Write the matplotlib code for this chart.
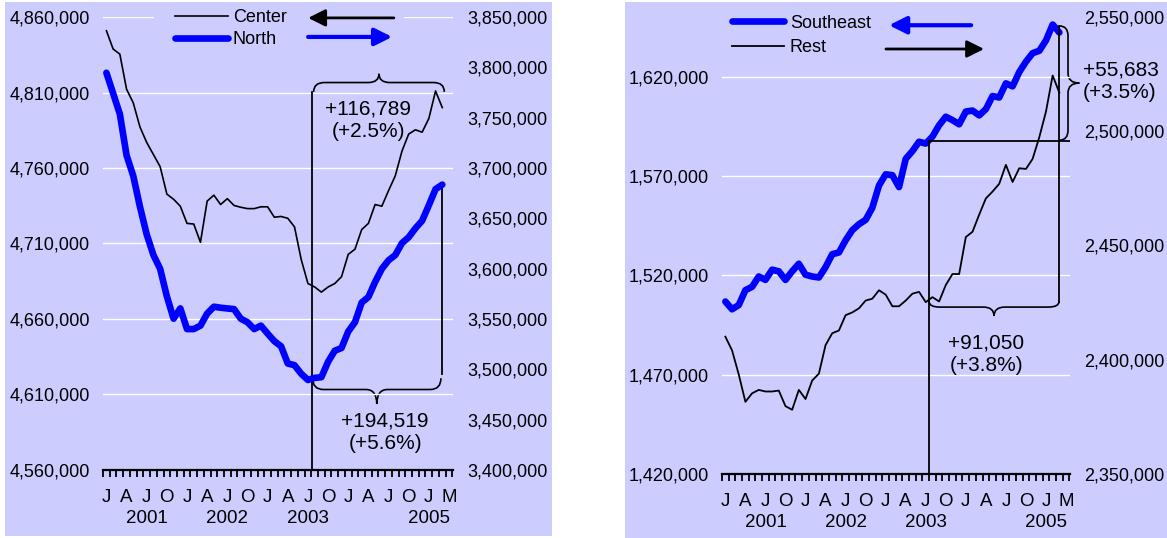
import numpy as np
import matplotlib.pyplot as plt
from matplotlib.patches import Rectangle, PathPatch
from matplotlib.path import Path
from matplotlib.ticker import FuncFormatter
from matplotlib.transforms import offset_copy

plt.rcParams['font.family'] = ['Liberation Sans', 'DejaVu Sans']

# monthly series, Jan 2001 .. Mar 2005
center = [4850900, 4838800, 4835400, 4812200, 4803100, 4787100, 4776900, 4768900,
          4760900, 4742700, 4739300, 4734700, 4723300, 4722900, 4710800, 4738100,
          4742000, 4735800, 4739700, 4735200, 4734000, 4733100, 4733100, 4734300,
          4734300, 4727400, 4727900, 4726700, 4721000, 4699400, 4683500, 4681200,
          4677800, 4681200, 4683500, 4688000, 4702800, 4706200, 4719200, 4723300,
          4735800, 4734700, 4745000, 4754800, 4771200, 4782500, 4785300, 4783700,
          4792800, 4811000, 4800000]
north = [3794600, 3774100, 3753600, 3712600, 3692100, 3661300, 3634000, 3613500,
         3599800, 3572500, 3550300, 3560500, 3540000, 3540000, 3543400, 3555400,
         3562200, 3561200, 3560500, 3559800, 3550300, 3546800, 3540000, 3543400,
         3535500, 3528000, 3522900, 3505800, 3504100, 3495600, 3489400, 3491500,
         3492200, 3507500, 3518500, 3521200, 3537600, 3546800, 3566300, 3571800,
         3586800, 3599800, 3608300, 3613500, 3625400, 3631200, 3640100, 3647600,
         3663000, 3679000, 3683500]
southeast = [1506800, 1502900, 1505000, 1512500, 1514200, 1519400, 1517700, 1522800,
             1522000, 1517700, 1522000, 1525800, 1520300, 1519400, 1518900, 1524100,
             1530600, 1531500, 1537600, 1542700, 1545700, 1547900, 1554000, 1565200,
             1570800, 1570400, 1564400, 1578600, 1582500, 1587200, 1586300, 1589800,
             1595500, 1599800, 1598100, 1596000, 1602400, 1602900, 1600500, 1603600,
             1610200, 1609500, 1616600, 1615100, 1622300, 1627500, 1631800, 1633000,
             1638200, 1646200, 1642200]
rest = [2410100, 2404100, 2393600, 2381600, 2385300, 2386800, 2386100, 2386100,
        2386500, 2379700, 2378100, 2386800, 2382800, 2390900, 2393900, 2406400,
        2411600, 2412800, 2419500, 2420700, 2422500, 2425900, 2426700, 2430400,
        2428500, 2423400, 2423400, 2425900, 2428900, 2429700, 2425200, 2427400,
        2425500, 2432700, 2437500, 2437500, 2453700, 2456000, 2463500, 2470600,
        2473600, 2477000, 2485300, 2477800, 2483800, 2483500, 2487900, 2497400,
        2508600, 2524400, 2516900]

tick_pos = list(range(0, 49, 3)) + [51]
tick_letters = ['J', 'A', 'J', 'O'] * 4 + ['J', 'M']
year_pos = [6, 18, 30, 48]
year_labels = ['2001', '2002', '2003', '2005']

lav = '#CCCCFF'
blue = '#0000FF'
fs = 13

x = np.arange(len(center))

fig = plt.figure(figsize=(11.67, 5.38), dpi=100)
fig.add_artist(Rectangle((0.0043, 0.0037), 0.4687, 0.9926, transform=fig.transFigure,
                         facecolor=lav, edgecolor='none', zorder=-5))
fig.add_artist(Rectangle((0.5356, 0.0), 0.4644, 0.9963, transform=fig.transFigure,
                         facecolor=lav, edgecolor='none', zorder=-5))

fmt = FuncFormatter(lambda v, p: f'{v:,.0f}')


def make_panel(rect, lim1, yt1, lim2, yt2):
    ax = fig.add_axes(rect)
    ax.set_facecolor('none')
    ax2 = ax.twinx()
    ax2.set_facecolor('none')
    for a in (ax, ax2):
        for s in a.spines.values():
            s.set_visible(False)
    ax.spines['bottom'].set_visible(True)
    ax.spines['bottom'].set_linewidth(1.6)
    ax.set_xlim(-0.5, 51.6)
    ax.set_ylim(*lim1)
    ax.set_yticks(yt1)
    ax2.set_ylim(*lim2)
    ax2.set_yticks(yt2)
    ax.yaxis.set_major_formatter(fmt)
    ax2.yaxis.set_major_formatter(fmt)
    ax.tick_params(axis='y', length=0, pad=9.5, labelsize=fs)
    ax2.tick_params(axis='y', length=0, pad=10, labelsize=fs)
    ax.set_xticks(tick_pos, tick_letters)
    ax.set_xticks(np.arange(-0.5, 52, 1), minor=True)
    ax.tick_params(axis='x', which='major', length=0, pad=13.5, labelsize=13.5)
    ax.tick_params(axis='x', which='minor', length=5, width=1.3, direction='out')
    ax.grid(axis='y', color='white', lw=1)
    ytr = offset_copy(ax.get_xaxis_transform(), fig=fig, y=-49, units='dots')
    for p, t in zip(year_pos, year_labels):
        ax.text(p, 0, t, transform=ytr, ha='center', va='center', fontsize=13.5)
    return ax, ax2


def brace(ax, a, b, base, mid, tip, r, vertical=False, lw=1.2):
    m = (a + b) / 2
    pts = [(a, base), (a, mid), (a + r, mid), (m - r, mid), (m, mid), (m, tip),
           (m, mid), (m + r, mid), (b - r, mid), (b, mid), (b, base)]
    if vertical:
        pts = [(q, p) for p, q in pts]
    codes = [Path.MOVETO, Path.CURVE3, Path.CURVE3, Path.LINETO, Path.CURVE3, Path.CURVE3,
             Path.CURVE3, Path.CURVE3, Path.LINETO, Path.CURVE3, Path.CURVE3]
    ax.add_patch(PathPatch(Path(pts, codes), fill=False, lw=lw, color='black', clip_on=False))


def arrow(ax, tail, head, color, lw):
    ax.annotate('', xy=head, xytext=tail, xycoords='axes fraction', textcoords='axes fraction',
                arrowprops=dict(arrowstyle='-|>,head_length=0.4,head_width=0.2', color=color,
                                lw=lw, mutation_scale=26, shrinkA=0, shrinkB=0),
                annotation_clip=False)


# ---------------- left panel: Center / North ----------------
axL, axL2 = make_panel([0.0883, 0.1264, 0.2999, 0.842],
                       (4560000, 4860000), np.arange(4560000, 4860001, 50000),
                       (3400000, 3850000), np.arange(3400000, 3850001, 50000))
lc, = axL.plot(x, center, color='black', lw=1.2)
ln, = axL2.plot(x, north, color=blue, lw=4.8, solid_capstyle='round', solid_joinstyle='round')

axL.add_patch(Rectangle((0.146, 0.95), 0.714, 0.07, transform=axL.transAxes, facecolor=lav,
                        edgecolor='none', zorder=1.8, clip_on=False))
axL2.legend([lc, ln], ['Center', 'North'], loc='upper left', bbox_to_anchor=(0.206, 1.018),
            frameon=False, fontsize=fs, handlelength=2.9, handletextpad=0.3,
            labelspacing=0.29, borderpad=0, borderaxespad=0)
arrow(axL2, (0.831, 0.998), (0.586, 0.998), 'black', 2.0)
arrow(axL2, (0.586, 0.956), (0.826, 0.956), blue, 3.0)

axL.plot([30.55, 30.55], [4560000, 4810400], color='black', lw=1.3)
axL.plot([50.0, 50.0], [4623500, 4747300], color='black', lw=1.3)
brace(axL, 30.85, 50.3, 4810400, 4816600, 4822400, 1.6)
brace(axL, 30.7, 49.8, 4620800, 4613300, 4603700, 1.6)
axL.text(39.0, 4791400, '+116,789\n(+2.5%)', ha='center', va='center', fontsize=15,
         linespacing=1.25)
axL.text(41.5, 4585100, '+194,519\n(+5.6%)', ha='center', va='center', fontsize=15,
         linespacing=1.25)

# ---------------- right panel: Southeast / Rest ----------------
axR, axR2 = make_panel([0.6187, 0.1190, 0.2982, 0.8494],
                       (1420000, 1650000), np.arange(1420000, 1620001, 50000),
                       (2350000, 2550000), np.arange(2350000, 2550001, 50000))
ls_, = axR.plot(x, southeast, color=blue, lw=4.8, solid_capstyle='round', solid_joinstyle='round')
lr, = axR2.plot(x, rest, color='black', lw=1.3)

axR2.legend([ls_, lr], ['Southeast', 'Rest'], loc='upper left', bbox_to_anchor=(0.029, 1.005),
            frameon=False, fontsize=fs, handlelength=2.9, handletextpad=0.3,
            labelspacing=0.40, borderpad=0, borderaxespad=0)
arrow(axR2, (0.716, 0.982), (0.48, 0.982), blue, 3.0)
arrow(axR2, (0.471, 0.930), (0.753, 0.930), 'black', 2.0)

axR.plot([30.5, 30.5], [1420000, 1587700], color='black', lw=1.3)
axR.plot([30.5, 51.6], [1587700, 1587700], color='black', lw=1.3)
axR.plot([49.95, 49.95], [1506800, 1645700], color='black', lw=1.3)
brace(axR, 30.5, 49.95, 1506800, 1504000, 1499500, 1.6)
brace(axR, 1645500, 1588000, 50.0, 51.3, 53.0, -5000, vertical=True)
axR.text(39.1, 1480400, '+91,050\n(+3.8%)', ha='center', va='center', fontsize=15,
         linespacing=1.25)
axR.text(53.5, 1617500, '+55,683\n(+3.5%)', ha='left', va='center', fontsize=15,
         linespacing=1.25)

fig.savefig('out.png', dpi=100)
